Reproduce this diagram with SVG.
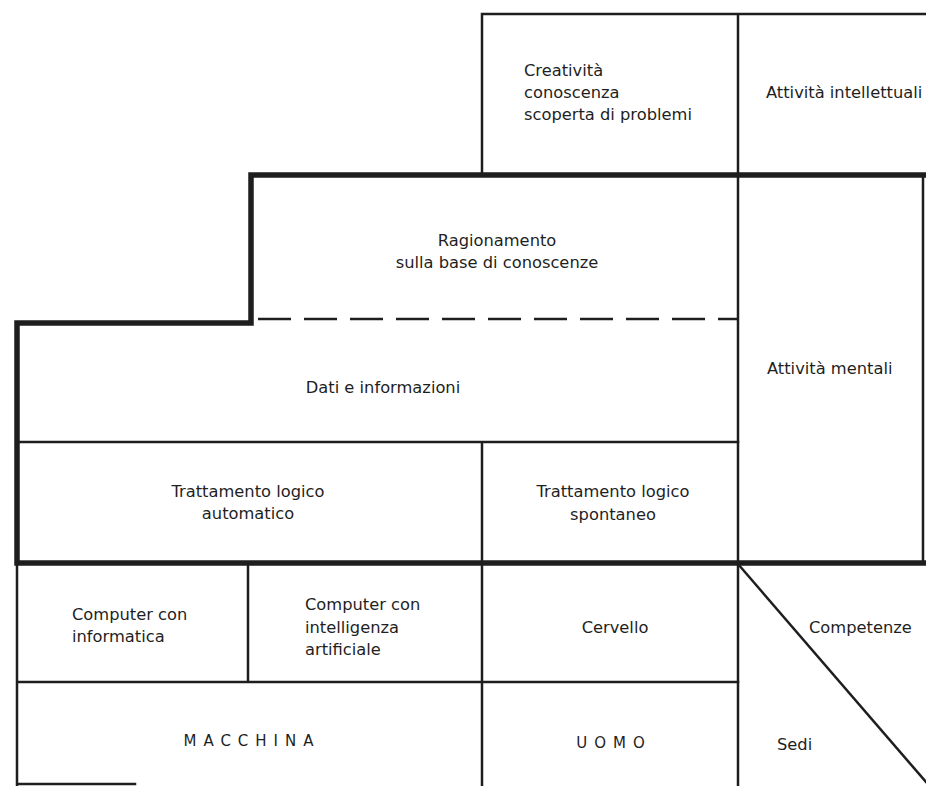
<svg xmlns="http://www.w3.org/2000/svg" width="926" height="786" viewBox="0 0 926 786">
<style>
.t{font-family:"DejaVu Sans","Liberation Sans",sans-serif;font-size:16.3px;fill:#1f1f1f}
.c{text-anchor:middle}
.caps{font-size:15px;letter-spacing:7px}
.thin{stroke:#1e1e1e;stroke-width:2.5;fill:none;stroke-linecap:square}
.thick{stroke:#1e1e1e;stroke-width:5.5;fill:none;stroke-linecap:square}
.dash{stroke:#1e1e1e;stroke-width:2.6;fill:none;stroke-dasharray:33 13}
</style>
<rect width="926" height="786" fill="#ffffff"/>
<g id="grid">
  <path class="thin" d="M482,14 H926 M482,14 V175 M738,14 V786 M923,175 V563"/>
  <path class="thick" d="M251,175 H926 M251,175 V323 M17,323 H251 M17,323 V563 M17,563 H926"/>
  <path class="dash" d="M258,319 H738"/>
  <path class="thin" d="M17,442 H738 M482,442 V786 M17,563 V786 M248,563 V682 M17,682 H738 M17,784 H135"/>
  <path class="thin" d="M738,564 L926,782"/>
</g>
<g id="creativita"><text class="t" x="524" y="76">Creatività</text><text class="t" x="524" y="98">conoscenza</text><text class="t" x="524" y="120">scoperta di problemi</text></g>
<g id="attivita-intellettuali"><text class="t" x="766" y="98">Attività intellettuali</text></g>
<g id="ragionamento"><text class="t c" x="497" y="246">Ragionamento</text><text class="t c" x="497" y="268">sulla base di conoscenze</text></g>
<g id="dati"><text class="t c" x="383" y="393">Dati e informazioni</text></g>
<g id="attivita-mentali"><text class="t" x="767" y="374">Attività mentali</text></g>
<g id="tratt-auto"><text class="t c" x="248" y="497">Trattamento logico</text><text class="t c" x="248" y="519">automatico</text></g>
<g id="tratt-spont"><text class="t c" x="613" y="497">Trattamento logico</text><text class="t c" x="613" y="520">spontaneo</text></g>
<g id="comp-info"><text class="t" x="72" y="620">Computer con</text><text class="t" x="72" y="642">informatica</text></g>
<g id="comp-ia"><text class="t" x="305" y="610">Computer con</text><text class="t" x="305" y="633">intelligenza</text><text class="t" x="305" y="655">artificiale</text></g>
<g id="cervello"><text class="t c" x="615" y="633">Cervello</text></g>
<g id="competenze"><text class="t" x="809" y="633">Competenze</text></g>
<g id="macchina"><text class="t c caps" x="252" y="746">MACCHINA</text></g>
<g id="uomo"><text class="t c caps" x="614" y="748">UOMO</text></g>
<g id="sedi"><text class="t" x="777" y="750">Sedi</text></g>
</svg>
